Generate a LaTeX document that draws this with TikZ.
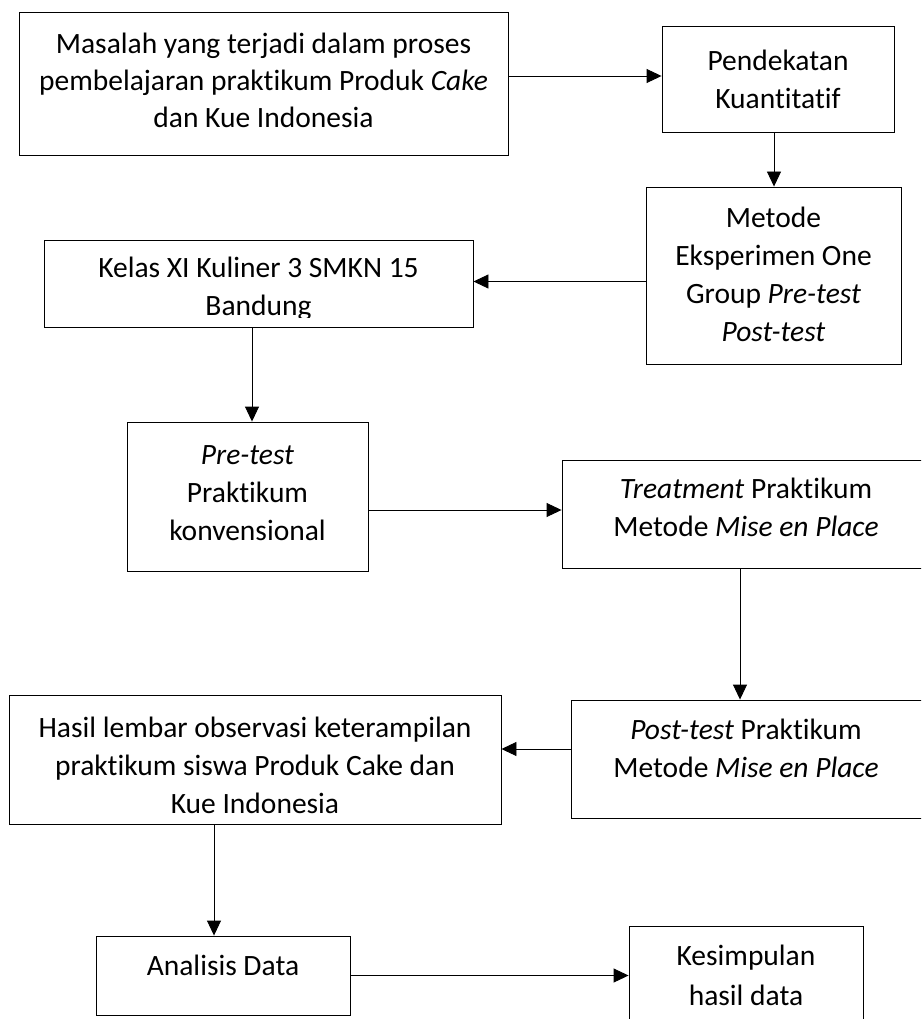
\documentclass[tikz,border=0pt]{standalone}
\usepackage{fontspec}
\setmainfont{Carlito}[Ligatures=NoCommon]
\usetikzlibrary{arrows.meta,fit}
\begin{document}
\begin{tikzpicture}[x=1pt,y=-1pt,
  box/.style={draw=black, line width=0.9pt, inner sep=0pt, fill=none},
  txt/.style={anchor=north, inner sep=0pt, align=center, font=\fontsize{29.5}{38}\selectfont},
  arr/.style={line width=0.9pt, -{Triangle[length=15pt,width=14pt]}}]
\useasboundingbox (0,0) rectangle (921,1019);
\clip (0,0) rectangle (921,1019);
% boxes
\node[box, fit={(19,12) (508,155)}] (b1) {};
\node[box, fit={(662,26) (894,132)}] (b2) {};
\node[box, fit={(646,187) (901,364)}] (b3) {};
\node[box, fit={(44,240) (473,327)}] (b4) {};
\node[box, fit={(127,422) (368,571)}] (b5) {};
\node[box, fit={(562,460) (930,568)}] (b6) {};
\node[box, fit={(571,700) (930,818)}] (b7) {};
\node[box, fit={(9,695) (501,824)}] (b8) {};
\node[box, fit={(96,936) (350,1015)}] (b9) {};
\node[box, fit={(629,926) (863,1030)}] (b10) {};
% texts
\node[txt, font=\fontsize{29.5}{37}\selectfont] (t1) at (263.5,33) {Masalah yang terjadi dalam proses\\pembelajaran praktikum Produk \textit{Cake}\\dan Kue Indonesia};
\node[txt] (t2) at (778,50) {Pendekatan\\Kuantitatif};
\node[txt] (t3) at (773.5,207) {Metode\\Eksperimen One\\Group \textit{Pre-test}\\\textit{Post-test}};
\begin{scope}
\clip (44,240) rectangle (473,317);
\node[txt] (t4) at (258.5,257) {Kelas XI Kuliner 3 SMKN 15\\Bandung};
\end{scope}
\node[txt] (t5) at (247.5,445) {\textit{Pre-test}\\Praktikum\\konvensional};
\node[txt] (t6) at (746,478) {\textit{Treatment} Praktikum\\Metode \textit{Mise en Place}};
\node[txt] (t7) at (746,719) {\textit{Post-test} Praktikum\\Metode \textit{Mise en Place}};
\node[txt] (t8) at (255,717) {Hasil lembar observasi keterampilan\\praktikum siswa Produk Cake dan\\Kue Indonesia};
\node[txt] (t9) at (223,955) {Analisis Data};
\node[txt] (t10) at (746,945) {Kesimpulan\\[2pt]hasil data};
% connectors
\draw[arr] ([yshift=3pt]b2.west -| b1.east) -- ([yshift=3pt]b2.west);
\draw[arr] ([xshift=-4pt]b2.south) -- ([xshift=-4pt]b2.south |- b3.north);
\draw[arr] ([yshift=2pt]b4.east -| b3.west) -- ([yshift=2pt]b4.east);
\draw[arr] ([xshift=-6.5pt]b4.south) -- ([xshift=-6.5pt]b4.south |- b5.north);
\draw[arr] ([yshift=4pt]b6.west -| b5.east) -- ([yshift=4pt]b6.west);
\draw[arr] ([xshift=-6pt]b6.south) -- ([xshift=-6pt]b6.south |- b7.north);
\draw[arr] ([yshift=10pt]b7.west) -- ([yshift=10pt]b7.west -| b8.east);
\draw[arr] ([xshift=-41pt]b8.south) -- ([xshift=-41pt]b8.south |- b9.north);
\draw[arr] (b9.east) -- (b9.east -| b10.west);
\end{tikzpicture}
\end{document}
